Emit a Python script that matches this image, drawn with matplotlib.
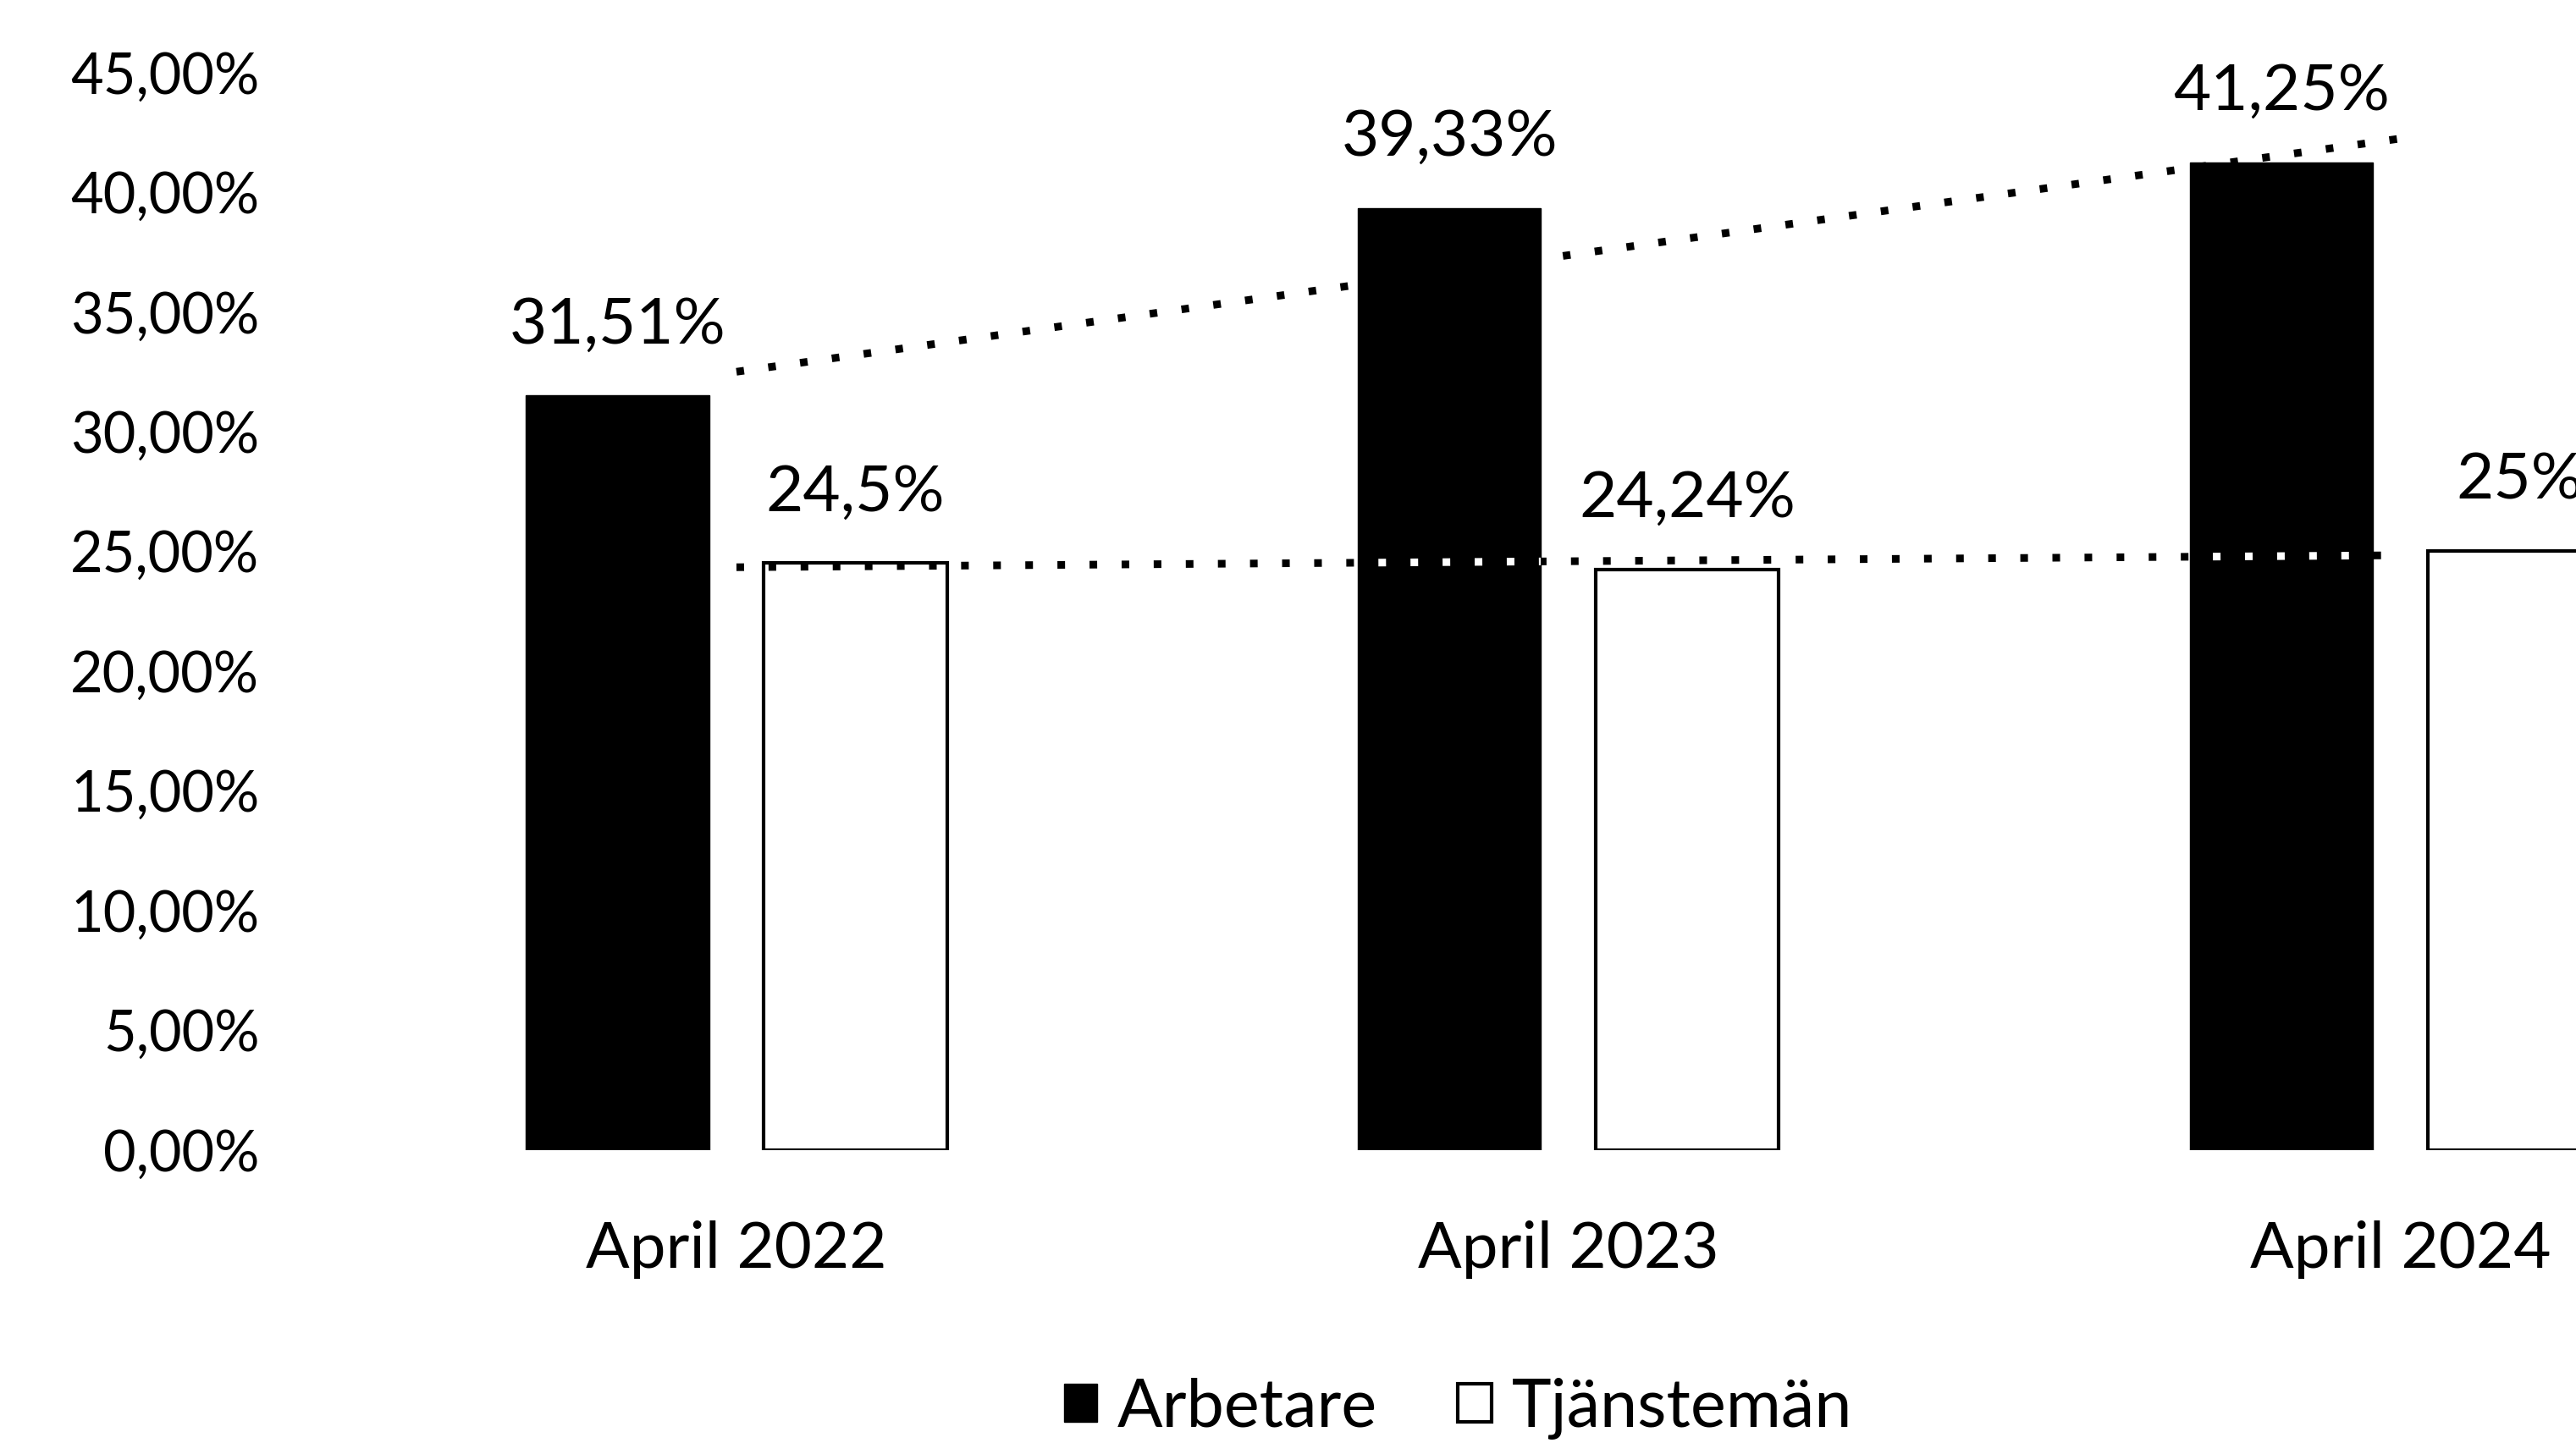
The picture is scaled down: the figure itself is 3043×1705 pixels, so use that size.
import numpy as np
import matplotlib
matplotlib.use("Agg")
import matplotlib.pyplot as plt

plt.rcParams['font.family'] = ['Lato', 'DejaVu Sans']

categories = ["April 2022", "April 2023", "April 2024"]
arbetare = [31.51, 39.33, 41.25]
tjansteman = [24.5, 24.24, 25.0]
arbetare_labels = ["31,51%", "39,33%", "41,25%"]
tjansteman_labels = ["24,5%", "24,24%", "25%"]
yticks = [0, 5, 10, 15, 20, 25, 30, 35, 40, 45]
ytick_labels = ["0,00%", "5,00%", "10,00%", "15,00%", "20,00%", "25,00%",
                "30,00%", "35,00%", "40,00%", "45,00%"]

fig = plt.figure(figsize=(30.43, 17.05), dpi=100)
ax = fig.add_axes([0.1244, 0.2032, 0.8756, 0.7467])

x = np.arange(len(categories))
w = 0.22
off = 0.143

bars_a = ax.bar(x - off, arbetare, w, color="black", edgecolor="black", zorder=2)
bars_t = ax.bar(x + off, tjansteman, w, color="white", edgecolor="black", linewidth=3, zorder=2)

# linear trend lines (like Excel)
xs = np.array([0, 2])
dots = (0, (1, 3.2))
for vals, white_over in [(arbetare, False), (tjansteman, True)]:
    k, m = np.polyfit(x, vals, 1)
    ax.plot(xs, k * xs + m, color="black", lw=6.5, linestyle=dots, zorder=3)
    if white_over:
        for b in bars_a:
            ln, = ax.plot(xs, k * xs + m, color="white", lw=6.5, linestyle=dots, zorder=4)
            ln.set_clip_path(b)

for i in range(len(x)):
    ax.annotate(arbetare_labels[i], (x[i] - off, arbetare[i]), xytext=(0, 60),
                textcoords="offset points", ha="center", va="center", fontsize=55)
    ax.annotate(tjansteman_labels[i], (x[i] + off, tjansteman[i]), xytext=(0, 60),
                textcoords="offset points", ha="center", va="center", fontsize=55,
                annotation_clip=False)

ax.set_ylim(0, 45)
ax.set_xlim(-0.5, 2.211)
ax.set_yticks(yticks)
ax.set_yticklabels(ytick_labels, fontsize=48)
ax.set_xticks(x)
ax.set_xticklabels(categories, fontsize=55)
ax.tick_params(axis='y', length=0, pad=52)
ax.tick_params(axis='x', length=0, pad=60)
for s in ax.spines.values():
    s.set_visible(False)

ax.legend([bars_a, bars_t], ["Arbetare", "Tjänstemän"], loc="center",
          bbox_to_anchor=(0.566, 0.024), bbox_transform=fig.transFigure, ncol=2,
          frameon=False, fontsize=57, handlelength=0.5, handleheight=0.5,
          handletextpad=0.3, columnspacing=1.2)

fig.savefig("out.png", dpi=100)
